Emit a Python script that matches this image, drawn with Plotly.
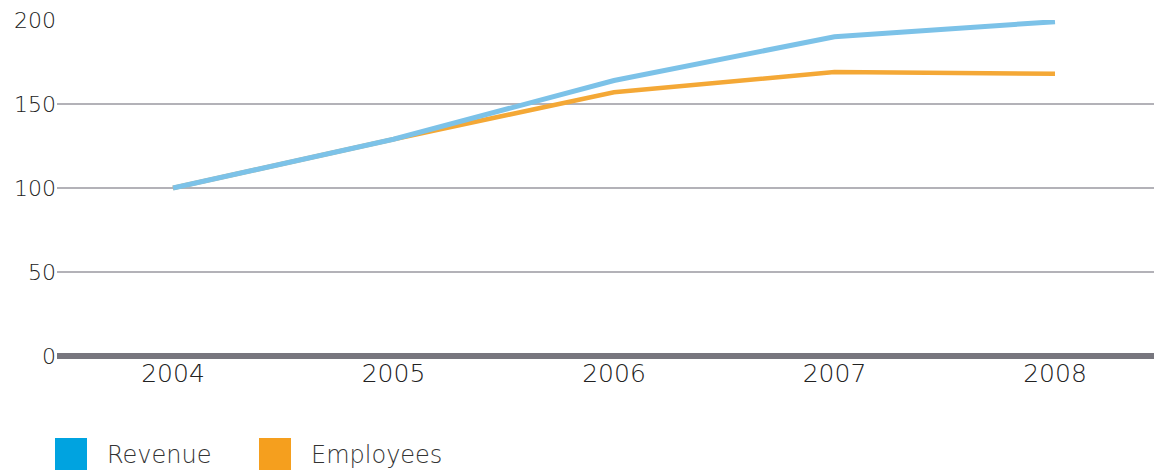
import plotly.graph_objects as go

years = [2004, 2005, 2006, 2007, 2008]
revenue = [100, 129, 164, 190, 199]
employees = [100, 129, 157, 169, 168]

series_names = ["Revenue", "Employees"]
line_colors = ["#7CC2E8", "#F4A836"]
swatch_colors = ["#00A3E0", "#F59F1E"]

y_ticks = [0, 50, 100, 150, 200]

fig = go.Figure()
fig.add_trace(go.Scatter(x=years, y=employees, mode="lines", name=series_names[1],
                         line=dict(color=line_colors[1], width=4.5)))
fig.add_trace(go.Scatter(x=years, y=revenue, mode="lines", name=series_names[0],
                         line=dict(color=line_colors[0], width=5)))

font_family = "'DejaVu Sans', sans-serif"
text_color = "#222222"

fig.update_layout(
    width=1154, height=471,
    margin=dict(l=57, r=0, t=20, b=115),
    paper_bgcolor="white", plot_bgcolor="white",
    showlegend=False,
    font=dict(family=font_family, size=22, color=text_color),
    xaxis=dict(range=[2003.474, 2008.449], tickvals=years, ticktext=[str(y) for y in years],
               showgrid=False, zeroline=False, showline=False, ticks="",
               tickfont=dict(family=font_family, size=25, color=text_color, weight=300)),
    yaxis=dict(range=[0, 200], tickvals=y_ticks, showgrid=True, gridcolor="#B3B2B8",
               gridwidth=1.5, zeroline=True, zerolinecolor="#77767E", zerolinewidth=6,
               showline=False, ticks="", ticklabelstandoff=0,
               tickfont=dict(family=font_family, size=22, color=text_color, weight=300)),
)

# Legend drawn as colored squares with labels underneath the chart
legend_x = [55, 259]
for i, name in enumerate(series_names):
    fig.add_shape(type="rect", xref="paper", yref="paper",
                  x0=(legend_x[i] - 57) / 1097, x1=(legend_x[i] - 57 + 32) / 1097,
                  y0=(356 - 470) / 336, y1=(356 - 438) / 336,
                  fillcolor=swatch_colors[i], line=dict(width=0))
    fig.add_annotation(xref="paper", yref="paper",
                       x=(legend_x[i] - 57 + 50) / 1097, y=(356 - 455) / 336,
                       text=name, showarrow=False, xanchor="left", yanchor="middle",
                       font=dict(family=font_family, size=24, color="#333333", weight=300))

fig.write_html("out.html")
